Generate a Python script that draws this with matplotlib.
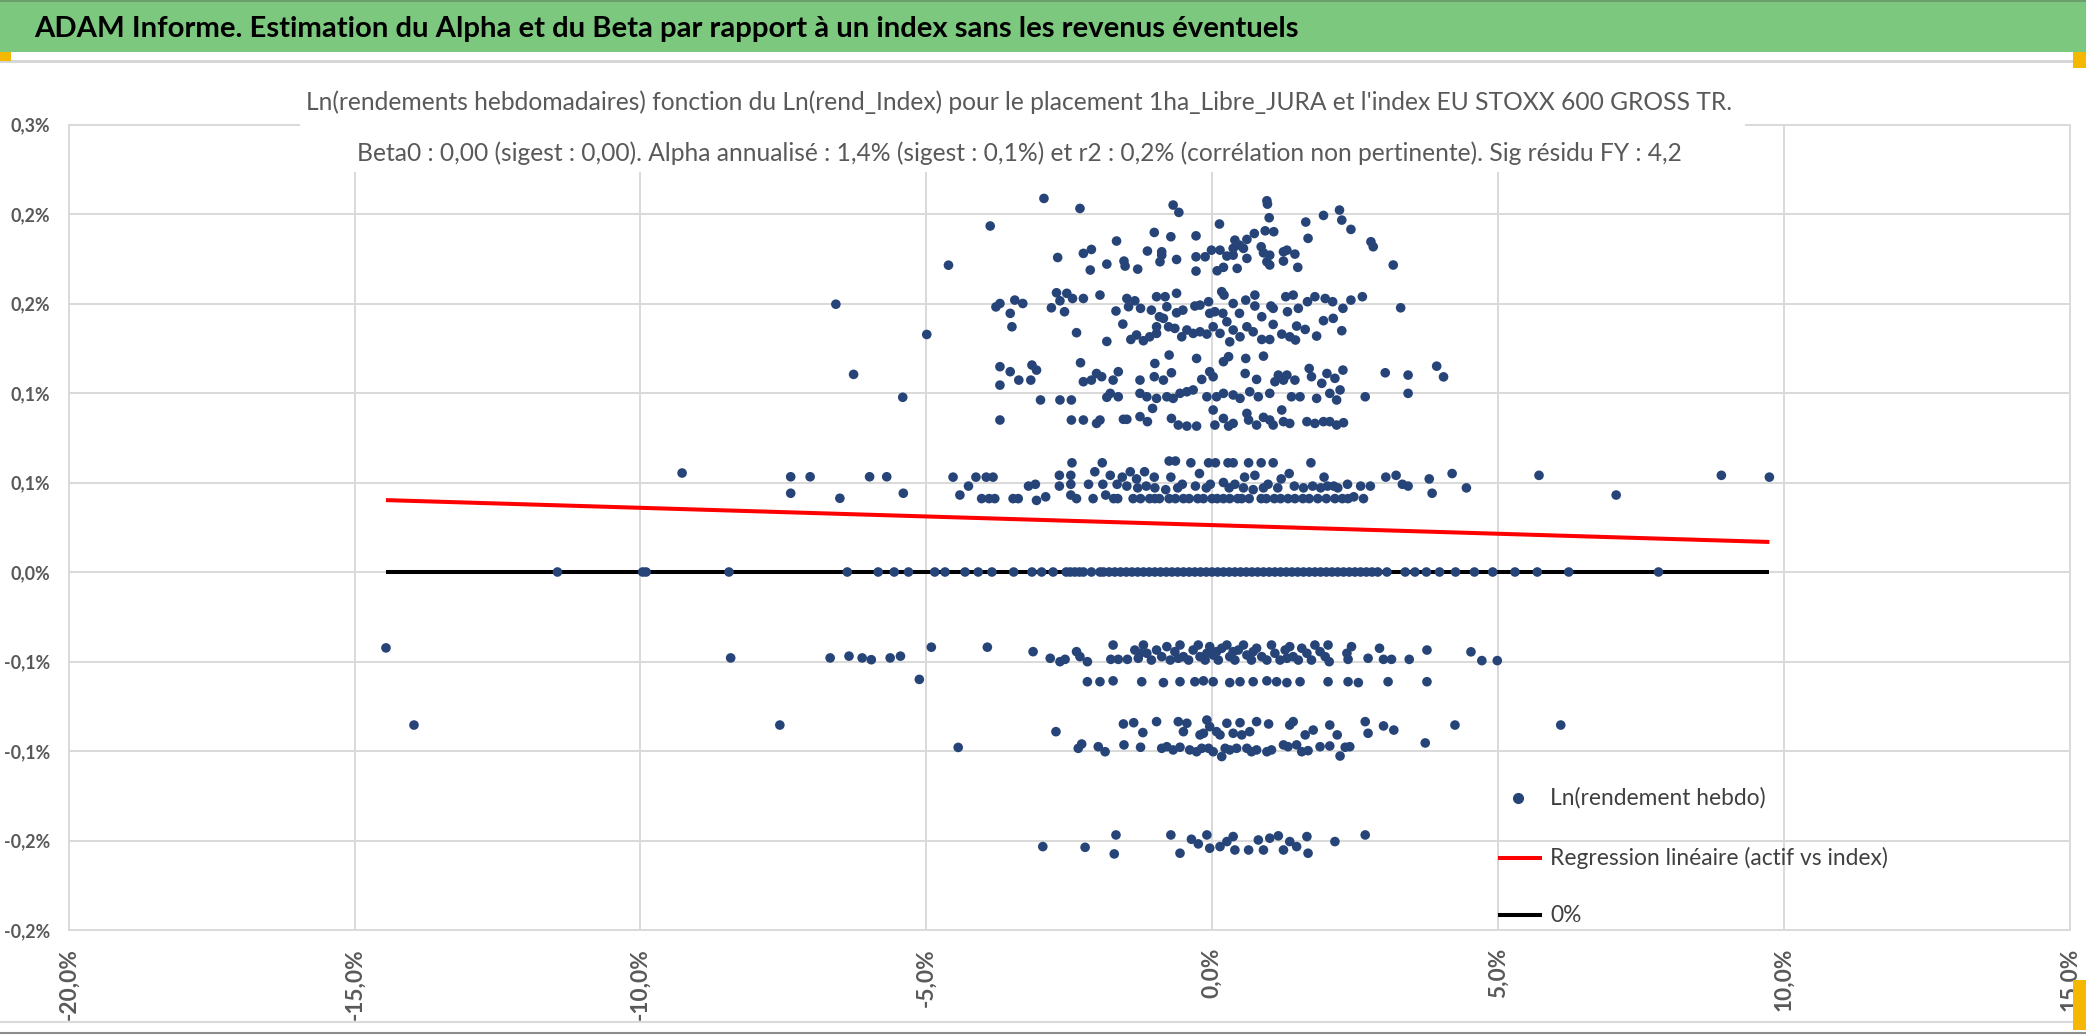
import matplotlib
matplotlib.use("Agg")
import matplotlib.pyplot as plt
from matplotlib.patches import Rectangle
from matplotlib.lines import Line2D
import numpy as np

# ---------------- data (index weekly ln-return %, fund weekly ln-return %) ----------------
band_top = [(-2.94, 0.2087), (-2.31, 0.2031), (-0.68, 0.2050), (-0.58, 0.2009), (0.96, 0.2074),
            (0.97, 0.2055), (1.00, 0.1979), (0.13, 0.1944), (-1.01, 0.1897), (-0.72, 0.1873),
            (-0.28, 0.1878), (-1.67, 0.1849), (0.74, 0.1891), (0.93, 0.1906), (1.08, 0.1901),
            (1.64, 0.1955), (1.95, 0.1992), (2.23, 0.2022), (2.27, 0.1966), (2.43, 0.1914),
            (1.68, 0.1864), (2.78, 0.1845), (2.82, 0.1817), (3.17, 0.1715), (0.40, 0.1854),
            (0.61, 0.1858), (0.48, 0.1826), (0.37, 0.1808), (0.55, 0.1808), (0.61, 0.1752),
            (0.86, 0.1817), (0.90, 0.1783), (1.01, 0.1770), (0.96, 0.1733), (1.01, 0.1715),
            (1.25, 0.1789), (1.31, 0.1798), (1.45, 0.1776), (1.25, 0.1737), (1.50, 0.1702),
            (0.14, 0.1798), (-0.01, 0.1798), (0.26, 0.1765), (0.37, 0.1770), (-0.12, 0.1761),
            (-0.28, 0.1761), (-0.62, 0.1746), (-0.88, 0.1789), (-0.91, 0.1733), (-1.13, 0.1793),
            (-1.54, 0.1737), (-1.52, 0.1709), (-1.30, 0.1692), (-1.84, 0.1720), (-2.13, 0.1687),
            (-2.25, 0.1780), (-2.11, 0.1802), (-2.70, 0.1757), (-0.28, 0.1681), (0.09, 0.1683),
            (0.20, 0.1702), (0.44, 0.1696), (-0.88, 0.1770), (-3.88, 0.1933), (-4.61, 0.1714)]

band_015 = [(-3.71, 0.1500), (-3.53, 0.1445), (-3.45, 0.1519), (-3.31, 0.1500), (-3.50, 0.1370),
            (-2.81, 0.1476), (-2.72, 0.1560), (-2.66, 0.1515), (-2.58, 0.1454), (-2.54, 0.1557),
            (-2.44, 0.1528), (-2.25, 0.1528), (-1.96, 0.1547), (-2.37, 0.1337), (-1.84, 0.1288),
            (-1.68, 0.1458), (-1.56, 0.1385), (-1.49, 0.1528), (-1.46, 0.1482), (-1.35, 0.1515),
            (-1.25, 0.1473), (-1.06, 0.1463), (-0.97, 0.1538), (-0.92, 0.1426), (-0.82, 0.1538),
            (-0.79, 0.1482), (-0.62, 0.1557), (-0.62, 0.1448), (-0.51, 0.1463), (-0.30, 0.1486),
            (-0.21, 0.1491), (-0.06, 0.1510), (-0.04, 0.1445), (0.05, 0.1454), (0.17, 0.1566),
            (0.21, 0.1547), (0.19, 0.1445), (0.37, 0.1500), (0.48, 0.1445), (0.59, 0.1519),
            (0.75, 0.1547), (0.75, 0.1486), (0.87, 0.1426), (1.03, 0.1486), (1.07, 0.1473),
            (1.29, 0.1538), (1.42, 0.1547), (1.32, 0.1454), (1.51, 0.1473), (1.67, 0.1510),
            (1.80, 0.1538), (1.98, 0.1528), (2.11, 0.1510), (2.29, 0.1473), (2.43, 0.1519),
            (2.63, 0.1538), (3.30, 0.1476), (1.95, 0.1404), (2.12, 0.1417), (2.27, 0.1348),
            (1.83, 0.1318), (1.63, 0.1355), (1.48, 0.1374), (1.46, 0.1296), (1.36, 0.1314),
            (1.22, 0.1329), (1.07, 0.1383), (1.01, 0.1299), (0.87, 0.1299), (0.72, 0.1342),
            (0.61, 0.1370), (0.49, 0.1314), (0.37, 0.1352), (0.31, 0.1286), (0.26, 0.1398),
            (0.14, 0.1333), (0.02, 0.1370), (-0.09, 0.1329), (-0.21, 0.1342), (-0.33, 0.1333),
            (-0.44, 0.1352), (-0.53, 0.1314), (-0.65, 0.1361), (-0.76, 0.1370), (-0.85, 0.1417),
            (-0.97, 0.1370), (-1.09, 0.1314), (-1.20, 0.1292), (-1.32, 0.1324), (-1.42, 0.1299),
            (-0.97, 0.1333), (-6.58, 0.1496), (-3.78, 0.1481), (-4.99, 0.1327)]

band_010 = [(-3.71, 0.1147), (-3.53, 0.1119), (-3.38, 0.1072), (-3.15, 0.1156), (-3.07, 0.1128),
            (-3.17, 0.1072), (-3.71, 0.1044), (-3.00, 0.0961), (-2.66, 0.0961), (-2.46, 0.0961),
            (-2.30, 0.1169), (-2.25, 0.1063), (-2.11, 0.1072), (-2.02, 0.1109), (-1.93, 0.1091),
            (-1.84, 0.0976), (-1.73, 0.1072), (-1.64, 0.1119), (-1.78, 0.0998), (-1.64, 0.0979),
            (-1.26, 0.1072), (-1.26, 0.0998), (-1.14, 0.0979), (-1.01, 0.1091), (-1.04, 0.0914),
            (-0.97, 0.0970), (-1.00, 0.1165), (-0.85, 0.1072), (-0.75, 0.1212), (-0.71, 0.1113),
            (-0.79, 0.0979), (-0.68, 0.0970), (-0.56, 0.0998), (-0.44, 0.1007), (-0.33, 0.1017),
            (-0.27, 0.1193), (-0.18, 0.1076), (-0.09, 0.0979), (-0.04, 0.1119), (0.02, 0.1091),
            (0.08, 0.0979), (0.20, 0.1175), (0.29, 0.1203), (0.20, 0.0998), (0.37, 0.0989),
            (0.49, 0.0970), (0.58, 0.1109), (0.59, 0.1193), (0.66, 0.1007), (0.78, 0.1076),
            (0.81, 0.0979), (0.90, 0.1206), (1.01, 0.0998), (1.10, 0.1063), (1.16, 0.1100),
            (1.25, 0.1072), (1.31, 0.1100), (1.39, 0.0979), (1.45, 0.1072), (1.54, 0.0979),
            (1.70, 0.1137), (1.74, 0.1091), (1.83, 0.0970), (1.92, 0.1054), (2.01, 0.1109),
            (2.06, 0.0998), (2.15, 0.1082), (2.24, 0.1017), (2.29, 0.1128), (2.18, 0.0961),
            (2.68, 0.0979), (3.03, 0.1113), (3.43, 0.1100), (3.43, 0.0998),
            (-3.71, 0.0849), (-2.46, 0.0849), (-2.25, 0.0849), (-2.02, 0.0830), (-1.96, 0.0849),
            (-1.55, 0.0853), (-1.49, 0.0853), (-1.26, 0.0868), (-1.13, 0.0840), (-0.71, 0.0858),
            (-0.59, 0.0821), (-0.44, 0.0815), (-0.27, 0.0815), (0.02, 0.0905), (0.05, 0.0821),
            (0.20, 0.0858), (0.29, 0.0815), (0.37, 0.0830), (0.61, 0.0886), (0.64, 0.0849),
            (0.78, 0.0821), (0.90, 0.0864), (1.01, 0.0849), (1.07, 0.0821), (1.22, 0.0905),
            (1.25, 0.0840), (1.36, 0.0830), (1.66, 0.0840), (1.80, 0.0830), (1.95, 0.0840),
            (2.06, 0.0840), (2.18, 0.0821), (2.30, 0.0834),
            (-6.27, 0.1104), (-5.41, 0.0976), (3.93, 0.1150), (4.05, 0.1090)]

band_005 = [(-9.27, 0.0553), (-7.37, 0.0532), (-7.37, 0.0440), (-7.03, 0.0532), (-6.51, 0.0412),
            (-5.99, 0.0532), (-5.69, 0.0532), (-5.40, 0.0440),
            (-4.53, 0.053), (-4.41, 0.043), (-4.26, 0.048), (-4.13, 0.053), (-4.03, 0.041),
            (-3.95, 0.053), (-3.83, 0.053), (-3.80, 0.041), (-3.90, 0.041), (-3.48, 0.041),
            (-3.39, 0.041), (-3.21, 0.048), (-3.09, 0.049), (-3.07, 0.040), (-2.91, 0.042),
            (-2.67, 0.054), (-2.67, 0.048), (-2.45, 0.061), (-2.47, 0.054), (-2.47, 0.049),
            (-2.47, 0.043), (-2.37, 0.041), (-2.16, 0.049), (-2.08, 0.041), (-2.05, 0.056),
            (-1.92, 0.061), (-1.91, 0.049), (-1.86, 0.043), (-1.78, 0.054), (-1.72, 0.041),
            (-1.66, 0.049), (-1.57, 0.053), (-1.49, 0.048), (-1.43, 0.056), (-1.38, 0.041),
            (-1.32, 0.052), (-1.18, 0.056), (-1.15, 0.048), (-1.09, 0.041), (-1.01, 0.053),
            (-0.92, 0.041), (-0.81, 0.046), (-0.75, 0.062), (-0.64, 0.062), (-0.72, 0.053),
            (-0.64, 0.041), (-0.52, 0.049), (-0.37, 0.061), (-0.40, 0.041), (-0.29, 0.048),
            (-0.22, 0.055), (-0.15, 0.041), (-0.06, 0.061), (-0.03, 0.049), (0.06, 0.061),
            (0.09, 0.041), (0.20, 0.050), (0.28, 0.061), (0.31, 0.041), (0.37, 0.061),
            (0.40, 0.049), (0.52, 0.041), (0.57, 0.053), (0.64, 0.061), (0.72, 0.046),
            (0.75, 0.054), (0.86, 0.061), (0.86, 0.041), (0.98, 0.049), (1.07, 0.061),
            (1.09, 0.041), (1.21, 0.052), (1.35, 0.055), (1.33, 0.041), (1.44, 0.048),
            (1.59, 0.041), (1.73, 0.061), (1.76, 0.048), (1.85, 0.041), (1.96, 0.053),
            (2.02, 0.048), (2.13, 0.048), (2.28, 0.041), (2.37, 0.049), (2.48, 0.042),
            (2.60, 0.048), (2.65, 0.041), (2.77, 0.048), (3.04, 0.053), (3.22, 0.054),
            (3.33, 0.049), (3.43, 0.048),
            (-1.65, 0.041), (-1.25, 0.041), (-1.00, 0.041), (-0.75, 0.041), (-0.50, 0.041),
            (-0.25, 0.041), (0.00, 0.041), (0.20, 0.041), (0.45, 0.041), (0.65, 0.041),
            (0.95, 0.041), (1.20, 0.041), (1.45, 0.041), (1.70, 0.041), (2.00, 0.041),
            (2.15, 0.041), (2.38, 0.041), (-1.30, 0.047), (-1.00, 0.047), (-0.60, 0.047),
            (-0.10, 0.047), (0.30, 0.047), (0.55, 0.047), (0.90, 0.047), (1.15, 0.047),
            (1.60, 0.047), (1.90, 0.047), (2.20, 0.047),
            (3.80, 0.0520), (3.85, 0.0440), (4.20, 0.0550), (4.45, 0.0470), (5.72, 0.0540),
            (7.07, 0.0430), (8.91, 0.0540), (9.75, 0.0530)]

zero_x = [-11.45, -9.96, -9.90, -8.45, -6.38, -5.84, -5.56, -5.31, -4.85, -4.67, -4.32, -4.09,
          -3.85, -3.47, -3.15, -2.98, -2.78, -2.55, -2.48, -2.40, -2.32, -2.25, -2.11, -1.96,
          -1.9, -1.8, -1.7, -1.6, -1.5, -1.4, -1.3, -1.2, -1.1, -1.0, -0.9, -0.8, -0.7, -0.6,
          -0.5, -0.4, -0.3, -0.2, -0.1, 0.0, 0.1, 0.2, 0.3, 0.4, 0.5, 0.6, 0.7, 0.8, 0.9, 1.0,
          1.1, 1.2, 1.3, 1.4, 1.5, 1.6, 1.7, 1.8, 1.9, 2.0, 2.1, 2.2, 2.3, 2.4, 2.5, 2.6, 2.7,
          2.8, 2.9, 3.06, 3.38, 3.55, 3.75, 3.98, 4.26, 4.59, 4.91, 5.30, 5.69, 6.24, 7.81]

band_m005 = [(-3.13, -0.0445), (-2.83, -0.0482), (-2.66, -0.0501), (-2.57, -0.0488), (-2.37, -0.0445),
             (-2.31, -0.0473), (-2.18, -0.0501), (-1.73, -0.0408), (-1.77, -0.0488), (-1.64, -0.0488),
             (-1.48, -0.0488), (-1.35, -0.0436), (-1.29, -0.0482), (-1.20, -0.0408), (-1.14, -0.0454),
             (-1.06, -0.0492), (-0.97, -0.0436), (-0.88, -0.0473), (-0.79, -0.0417), (-0.73, -0.0492),
             (-0.65, -0.0445), (-0.56, -0.0408), (-0.50, -0.0473), (-0.41, -0.0492), (-0.33, -0.0436),
             (-0.24, -0.0408), (-0.21, -0.0473), (-0.12, -0.0492), (-0.04, -0.0417), (0.02, -0.0464),
             (0.11, -0.0492), (0.17, -0.0426), (0.26, -0.0408), (0.31, -0.0473), (0.40, -0.0492),
             (0.46, -0.0436), (0.55, -0.0408), (0.61, -0.0464), (0.69, -0.0492), (0.78, -0.0426),
             (0.87, -0.0473), (0.96, -0.0492), (1.04, -0.0408), (1.10, -0.0454), (1.19, -0.0492),
             (1.28, -0.0436), (1.36, -0.0417), (1.42, -0.0473), (1.51, -0.0492), (1.57, -0.0426),
             (1.66, -0.0454), (1.74, -0.0492), (1.80, -0.0408), (1.89, -0.0445), (1.98, -0.0473),
             (2.03, -0.0408), (2.05, -0.0501), (2.36, -0.0454), (2.44, -0.0417), (2.38, -0.0488),
             (2.73, -0.0482), (2.93, -0.0426), (3.00, -0.0488), (3.14, -0.0488), (3.45, -0.0488),
             (-1.26, -0.0454), (-0.59, -0.0482), (0.08, -0.0445), (0.72, -0.0445), (1.31, -0.0482),
             (-0.09, -0.0454), (0.37, -0.0445),
             (-2.18, -0.0613), (-1.96, -0.0613), (-1.73, -0.0608), (-1.23, -0.0613), (-0.85, -0.0618),
             (-0.56, -0.0613), (-0.30, -0.0613), (-0.15, -0.0608), (0.02, -0.0613), (0.31, -0.0618),
             (0.49, -0.0613), (0.72, -0.0613), (0.96, -0.0608), (1.13, -0.0613), (1.31, -0.0618),
             (1.54, -0.0613), (2.03, -0.0613), (2.38, -0.0613), (2.56, -0.0618), (3.08, -0.0613),
             (-14.45, -0.0424), (-8.42, -0.0480), (-6.68, -0.0480), (-6.35, -0.0470), (-6.12, -0.0480),
             (-5.96, -0.0490), (-5.63, -0.0480), (-5.45, -0.0470), (-5.12, -0.0600), (-4.91, -0.0420),
             (-3.93, -0.0420), (3.76, -0.0436), (4.53, -0.0446), (4.72, -0.0495), (4.99, -0.0495),
             (3.76, -0.0613)]

band_m010 = [(-2.73, -0.0892), (-1.55, -0.0849), (-1.37, -0.0842), (-1.21, -0.0897), (-0.97, -0.0836),
             (-0.59, -0.0836), (-0.44, -0.0845), (-0.50, -0.0892), (-0.09, -0.0827), (-0.15, -0.0901),
             (0.08, -0.0892), (0.26, -0.0845), (0.37, -0.0901), (0.49, -0.0842), (0.66, -0.0892),
             (0.78, -0.0836), (0.99, -0.0849), (1.36, -0.0855), (1.42, -0.0836), (1.63, -0.0910),
             (1.77, -0.0883), (2.06, -0.0855), (2.19, -0.0910), (2.68, -0.0836), (2.73, -0.0901),
             (3.00, -0.0860), (3.18, -0.0883), (-0.21, -0.0910), (-0.04, -0.0864), (0.52, -0.0910),
             (0.14, -0.0910),
             (-2.34, -0.0985), (-2.28, -0.0961), (-1.99, -0.0976), (-1.87, -0.1004), (-1.54, -0.0966),
             (-1.25, -0.0979), (-0.88, -0.0985), (-0.79, -0.0976), (-0.56, -0.0979), (-0.39, -0.0994),
             (-0.27, -0.1004), (-0.06, -0.0985), (0.02, -0.1004), (0.17, -0.1031), (0.31, -0.0994),
             (0.43, -0.0985), (0.61, -0.0985), (0.78, -0.0994), (0.96, -0.1004), (1.04, -0.0994),
             (1.25, -0.0966), (1.33, -0.0976), (1.48, -0.0966), (1.57, -0.1004), (1.68, -0.0998),
             (1.89, -0.0976), (2.06, -0.0972), (2.24, -0.1028), (2.33, -0.0979), (2.41, -0.0976),
             (-0.68, -0.0994), (-0.18, -0.0985), (0.23, -0.0985), (0.69, -0.1004),
             (-13.96, -0.0855), (-7.56, -0.0855), (-4.44, -0.0980), (4.25, -0.0855), (6.10, -0.0855),
             (3.73, -0.0955)]

band_m015 = [(-2.96, -0.1534), (-2.22, -0.1538), (-1.68, -0.1469), (-1.71, -0.1575), (-0.72, -0.1469),
             (-0.56, -0.1571), (-0.36, -0.1493), (-0.24, -0.1519), (-0.09, -0.1469), (-0.04, -0.1543),
             (0.14, -0.1534), (0.26, -0.1506), (0.37, -0.1478), (0.40, -0.1553), (0.64, -0.1553),
             (0.81, -0.1497), (0.90, -0.1553), (1.01, -0.1487), (1.16, -0.1474), (1.25, -0.1553),
             (1.36, -0.1506), (1.48, -0.1534), (1.66, -0.1478), (1.68, -0.1571), (2.15, -0.1506),
             (2.68, -0.1469)]

reg_intercept = 0.0262   # % at index return 0
reg_slope = -0.000966    # % per % of index

x_ticks = [-20, -15, -10, -5, 0, 5, 10, 15]
y_ticks = [-0.20, -0.15, -0.10, -0.05, 0.0, 0.05, 0.10, 0.15, 0.20, 0.25]
y_tick_labels = ["-0,2%", "-0,2%", "-0,1%", "-0,1%", "0,0%", "0,1%", "0,1%", "0,2%", "0,2%", "0,3%"]

title = "ADAM Informe. Estimation du Alpha et du Beta par rapport à un index sans les revenus éventuels"
subtitle1 = "Ln(rendements hebdomadaires) fonction du Ln(rend_Index) pour le placement 1ha_Libre_JURA et l'index EU STOXX 600 GROSS TR."
subtitle2 = "Beta0 : 0,00 (sigest : 0,00). Alpha annualisé : 1,4% (sigest : 0,1%) et r2 : 0,2% (corrélation non pertinente). Sig résidu FY : 4,2"
legend_labels = ["Ln(rendement hebdo)", "Regression linéaire (actif vs index)", "0%"]

# ---------------- figure ----------------
FONT = ['Lato', 'DejaVu Sans']
W, H = 2086, 1035
fig = plt.figure(figsize=(W / 100, H / 100), dpi=100)
fig.patch.set_facecolor('white')
renderer = fig.canvas.get_renderer()


def fx(px):
    return px / W


def fy(py):
    return 1 - py / H


def fitted_size(s, target_px, **kw):
    t = fig.text(0, 0, s, fontsize=20, **kw)
    w = t.get_window_extent(renderer).width
    t.remove()
    return 20 * target_px / w


GREY = '#595959'

# banner
fig.patches.append(Rectangle((0, fy(52)), 1, 52 / H, transform=fig.transFigure,
                             facecolor='#7DC87F', edgecolor='none', zorder=0))
fig.lines.append(Line2D([0, 1], [fy(1), fy(1)], transform=fig.transFigure, color='#6A9E6B', lw=1.5))
fig.lines.append(Line2D([0, 1], [fy(61), fy(61)], transform=fig.transFigure, color='#D4D4D4', lw=2))
fig.lines.append(Line2D([0, 1], [fy(1022), fy(1022)], transform=fig.transFigure, color='#D9D9D9', lw=1.5))
fig.lines.append(Line2D([0, 1], [fy(1033), fy(1033)], transform=fig.transFigure, color='#8C8C8C', lw=1.5))
ts = fitted_size(title, 1264, family=FONT, fontweight='bold')
fig.text(fx(34), fy(29), title, family=FONT, fontsize=ts, fontweight='bold', color='black',
         ha='left', va='center')

# orange selection handles
for (x0, y0, w, h) in [(0, 52, 11, 9), (2073, 52, 13, 16), (2073, 980, 13, 50)]:
    fig.patches.append(Rectangle((fx(x0), fy(y0 + h)), w / W, h / H, transform=fig.transFigure,
                                 facecolor='#F5B800', edgecolor='none', zorder=5))

ax_l, ax_r, ax_t, ax_b = 68.7, 2069.5, 124.5, 930
ax = fig.add_axes([fx(ax_l), fy(ax_b), (ax_r - ax_l) / W, (ax_b - ax_t) / H])
ax.set_xlim(-20, 15)
ax.set_ylim(-0.20, 0.25)
for s in ax.spines.values():
    s.set_visible(False)

xs_size = fitted_size("-20,0%", 72, family=FONT, fontweight='bold')
ys_size = fitted_size("0,0%", 40, family=FONT, fontweight='bold')
ax.set_xticks(x_ticks)
ax.set_xticklabels([f"{v:.1f}%".replace('.', ',') for v in x_ticks], rotation=90,
                   family=FONT, fontweight='bold', fontsize=xs_size, color=GREY)
ax.set_yticks(y_ticks)
ax.set_yticklabels(y_tick_labels, family=FONT, fontweight='bold', fontsize=ys_size, color=GREY)
ax.tick_params(axis='both', length=0)
ax.tick_params(axis='y', pad=18.7 * 72 / 100)
ax.tick_params(axis='x', pad=18 * 72 / 100)
ax.grid(True, color='#D9D9D9', lw=1.4, zorder=0)
for gl in ax.get_xgridlines() + ax.get_ygridlines():
    gl.set_clip_on(False)
ax.set_axisbelow(True)

pts = band_top + band_015 + band_010 + band_005 + band_m005 + band_m010 + band_m015
xs = [p[0] for p in pts] + list(zero_x)
ys = [p[1] for p in pts] + [0.0] * len(zero_x)
xmin, xmax = min(xs), max(xs)

ax.plot([xmin, xmax], [0, 0], color='black', lw=2.9, zorder=2, solid_capstyle='butt')
ax.plot([xmin, xmax], [reg_intercept + reg_slope * xmin, reg_intercept + reg_slope * xmax],
        color='#FF0000', lw=2.9, zorder=4, solid_capstyle='butt')
ax.scatter(xs, ys, s=48, color='#264478', edgecolors='none', zorder=3)

# subtitle box (covers gridlines like the original)
fig.patches.append(Rectangle((fx(300), fy(172)), (1745 - 300) / W, (172 - 84) / H,
                             transform=fig.transFigure, facecolor='white', edgecolor='none', zorder=2))
ss = fitted_size(subtitle1, 1433, family=FONT)
fig.text(fx(1019), fy(102), subtitle1, family=FONT, fontsize=ss, color=GREY,
         ha='center', va='center', zorder=6)
fig.text(fx(1019), fy(153), subtitle2, family=FONT, fontsize=ss, color=GREY,
         ha='center', va='center', zorder=6)

# legend (drawn in figure pixels to match the original placement)
ls = fitted_size(legend_labels[1], 339, family=FONT)
leg_rows = [798, 858, 915]
fig.lines.append(Line2D([fx(1518)], [fy(leg_rows[0])], transform=fig.transFigure, marker='o',
                        markersize=7, color='#264478', linestyle='none'))
fig.lines.append(Line2D([fx(1500), fx(1540)], [fy(leg_rows[1])] * 2, transform=fig.transFigure,
                        color='#FF0000', lw=2.9))
fig.lines.append(Line2D([fx(1500), fx(1540)], [fy(leg_rows[2])] * 2, transform=fig.transFigure,
                        color='black', lw=2.9))
for lab, yy in zip(legend_labels, leg_rows):
    fig.text(fx(1550), fy(yy), lab, family=FONT, fontsize=ls, color='#404040',
             ha='left', va='center')

fig.savefig('out.png', dpi=100, facecolor='white')
